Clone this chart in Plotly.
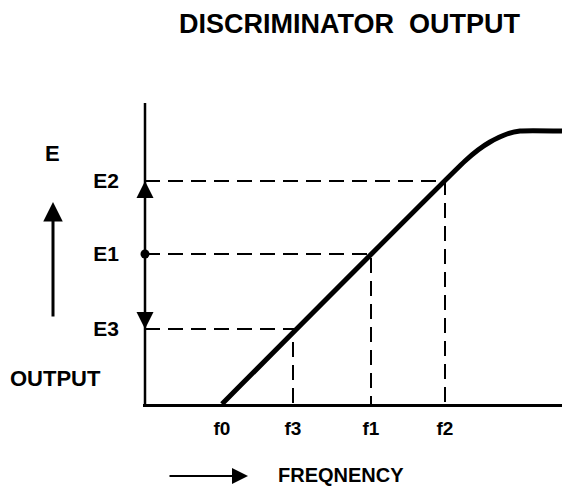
import plotly.graph_objects as go

# Data (arbitrary units)
f_labels = ["f0", "f3", "f1", "f2"]
f_values = [7.7, 14.8, 22.6, 30.0]
e_labels = ["E3", "E1", "E2"]
e_values = [7.5, 15.0, 22.3]
# operating points (f, E) joined to the axes by dashed lines
op_f = [14.8, 22.6, 30.0]
op_e = [7.5, 15.0, 22.3]
# discriminator response curve
curve_f = [7.7, 32.0, 33.3, 34.5, 36.2, 37.5, 41.7]
curve_e = [0.0, 24.3, 25.4, 26.2, 27.0, 27.3, 27.3]
# output axis extent
y_top = 30.1

FONT = "Liberation Sans, Arial, DejaVu Sans, sans-serif"
W, H = 562, 490
L, B, T, R = 143, 86, 103, 0

fig = go.Figure()

# output (vertical) axis line
fig.add_trace(go.Scatter(
    x=[0, 0], y=[0, y_top], mode="lines",
    line=dict(color="black", width=2.5),
    hoverinfo="skip", showlegend=False, cliponaxis=False))

# dashed guide lines
for f, e in zip(op_f, op_e):
    fig.add_trace(go.Scatter(
        x=[0, f, f], y=[e, e, 0], mode="lines",
        line=dict(color="black", width=2, dash="15px,8px"),
        hoverinfo="skip", showlegend=False, cliponaxis=False))

# response curve
fig.add_trace(go.Scatter(
    x=curve_f, y=curve_e, mode="lines",
    line=dict(color="black", width=5, shape="spline", smoothing=0.5),
    hoverinfo="skip", showlegend=False, cliponaxis=False))

# dot at E1 on the axis
fig.add_trace(go.Scatter(
    x=[0], y=[e_values[1]], mode="markers",
    marker=dict(color="black", size=9),
    hoverinfo="skip", showlegend=False, cliponaxis=False))

annotations = []
# arrows on the output axis: E1 -> E2 (up), E1 -> E3 (down)
for target in (e_values[2], e_values[0]):
    annotations.append(dict(
        x=0, y=target, xref="x", yref="y", ax=0, ay=e_values[1],
        axref="x", ayref="y", showarrow=True, arrowhead=2, arrowsize=1.7,
        arrowwidth=2, arrowcolor="black", text=""))

def px(xp):
    return (xp - L) / (W - L - R)

def py(yp):
    return (H - B - yp) / (H - B - T)

def tfont(size):
    return dict(size=size, family=FONT, color="black", weight="bold")

# text labels outside the plot area
annotations += [
    dict(text="DISCRIMINATOR  OUTPUT", x=px(350), y=py(24), xref="paper", yref="paper",
         showarrow=False, font=tfont(27), xanchor="center", yanchor="middle"),
    dict(text="E", x=px(52), y=py(153), xref="paper", yref="paper",
         showarrow=False, font=tfont(22), xanchor="center", yanchor="middle"),
    dict(text="OUTPUT", x=px(55), y=py(378), xref="paper", yref="paper",
         showarrow=False, font=tfont(22), xanchor="center", yanchor="middle"),
    dict(text="FREQNENCY", x=px(341), y=py(475), xref="paper", yref="paper",
         showarrow=False, font=tfont(20), xanchor="center", yanchor="middle"),
    # up arrow beside E
    dict(text="", x=px(53), y=py(202), xref="paper", yref="paper",
         ax=0, ay=116, showarrow=True, arrowhead=2, arrowsize=1.3,
         arrowwidth=3, arrowcolor="black"),
    # right arrow beside FREQNENCY
    dict(text="", x=px(248), y=py(476), xref="paper", yref="paper",
         ax=-80, ay=0, showarrow=True, arrowhead=2, arrowsize=1.6,
         arrowwidth=2, arrowcolor="black"),
]

fig.update_layout(
    width=W, height=H,
    margin=dict(l=L, r=R, t=T, b=B, pad=0),
    paper_bgcolor="white", plot_bgcolor="white",
    showlegend=False,
    annotations=annotations,
    xaxis=dict(range=[-0.2, 41.7], showgrid=False, zeroline=False,
               showline=True, linecolor="black", linewidth=3,
               tickvals=f_values, ticktext=f_labels, ticks="",
               tickfont=tfont(19),
               ticklabelstandoff=5, fixedrange=True),
    yaxis=dict(range=[0, y_top], showgrid=False, zeroline=False,
               showline=False,
               tickvals=e_values, ticktext=e_labels, ticks="",
               tickfont=tfont(21),
               ticklabelstandoff=23, fixedrange=True),
)

fig.write_html("out.html", config={"displayModeBar": False},
               post_script="document.body.style.margin='0';")
